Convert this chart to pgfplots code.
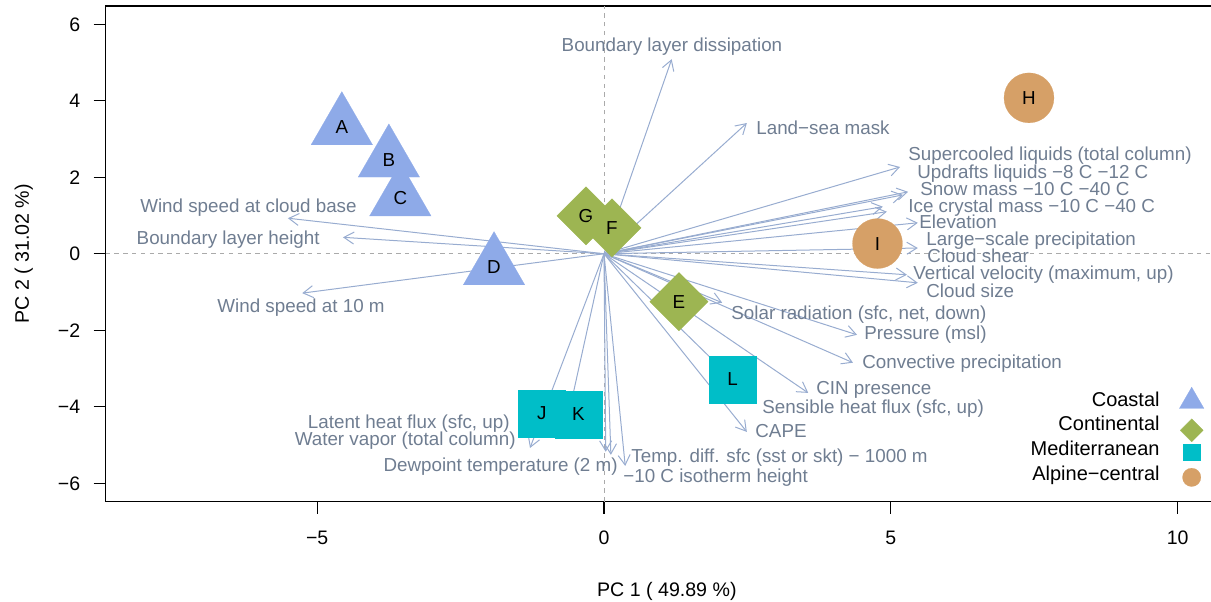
\documentclass[border=0pt]{standalone}
\usepackage{fontspec}
\setmainfont{Liberation Sans}
\usepackage{pgfplots}
\pgfplotsset{compat=1.18}
\usetikzlibrary{arrows.meta}
\definecolor{coastal}{HTML}{8EAAE8}
\definecolor{continental}{HTML}{9DB552}
\definecolor{mediterr}{HTML}{00BEC8}
\definecolor{alpine}{HTML}{D6A067}
\definecolor{arrowcol}{HTML}{98ACD0}
\definecolor{labcol}{HTML}{6F7D91}
\definecolor{dashcol}{HTML}{AAAAAA}
\tikzset{
  lab/.style={font=\fontsize{9.4}{11}\selectfont, text=labcol, inner sep=0pt, text height=6.73pt, text depth=0pt},
  letter/.style={font=\fontsize{9.4}{11}\selectfont, text=black, inner sep=0pt, text height=6.73pt, text depth=0pt},
  legtxt/.style={font=\fontsize{10}{12}\selectfont, text=black, inner sep=0pt, text height=7.16pt, text depth=0pt, anchor=east},
}

\pgfplotstableread{
x y u v
0 0 1.18 5.09
0 0 2.49 3.42
0 0 5.16 2.27
0 0 5.30 1.62
0 0 5.21 1.54
0 0 4.86 1.23
0 0 4.93 1.10
0 0 5.47 0.81
0 0 5.47 0.15
0 0 5.28 -0.55
0 0 5.47 -0.76
0 0 -5.51 0.93
0 0 -4.55 0.43
0 0 -5.26 -1.03
0 0 2.06 -1.28
0 0 4.41 -2.12
0 0 4.34 -2.85
0 0 3.56 -3.64
0 0 2.54 -3.72
0 0 2.49 -4.66
0 0 -0.63 -4.29
0 0 -1.29 -5.08
0 0 0.03 -5.18
0 0 0.12 -5.26
0 0 0.37 -5.55
}\loadings

\pgfplotstableread{
x y lab
-4.570 3.314 A
-3.550 1.454 C
-3.750 2.470 B
-1.917 -0.348 D
}\coastaltab

\pgfplotstableread{
x y lab
-0.314 0.991 G
0.139 0.676 F
1.307 -1.253 E
}\continentaltab

\pgfplotstableread{
x y lab
-1.086 -4.170 J
-0.447 -4.196 K
2.240 -3.280 L
}\medtab

\pgfplotstableread{
x y lab
7.408 4.078 H
4.767 0.267 I
}\alpinetab

\begin{document}
\begin{tikzpicture}
\useasboundingbox (-52.85pt,-49.75pt) rectangle (552.65pt,250.75pt);
\begin{axis}[
  at={(0pt,0pt)}, anchor=south west,
  scale only axis, width=561.15pt, height=247.75pt,
  xmin=-8.686, xmax=10.877, ymin=-6.481, ymax=6.481,
  clip=false,
  axis line style={line width=0.6pt, black},
  tick align=outside, tick style={line width=0.6pt, black},
  major tick length=6pt,
  xtick={-5,0,5,10}, xticklabels={−5,0,5,10},
  ytick={-6,-4,-2,0,2,4,6}, yticklabels={−6,−4,−2,0,2,4,6},
  xtick pos=lower, ytick pos=left,
  xticklabel style={font=\fontsize{9.75}{11}\selectfont, anchor=center, inner sep=0pt, text height=7pt, text depth=0pt, yshift=-11.9pt},
  yticklabel style={font=\fontsize{9.75}{11}\selectfont, anchor=east, inner sep=0pt, text height=7pt, text depth=0pt, xshift=-6.6pt},
  xlabel={PC 1 ( 49.89 \%)}, ylabel={PC 2 ( 31.02 \%)},
  xlabel style={font=\fontsize{9.8}{11}\selectfont, at={(axis description cs:0.5,-0.1766)}, anchor=center, inner sep=0pt, text height=7pt, text depth=0pt},
  ylabel style={font=\fontsize{9.8}{11}\selectfont, at={(axis description cs:-0.0746,0.5)}, anchor=center, inner sep=0pt, text height=7pt, text depth=0pt},
  nodes near coords align=center,
]
% reference lines
\addplot[dashcol, line width=0.5pt, dash pattern=on 2.2pt off 2.2pt, forget plot] coordinates {(0,-6.481) (0,6.481)};
\addplot[dashcol, line width=0.5pt, dash pattern=on 2.2pt off 2.2pt, forget plot] coordinates {(-8.686,0) (10.877,0)};

% loadings
\addplot[arrowcol, line width=0.5pt, -{Straight Barb[length=5pt,width=6pt]},
  quiver={u=\thisrow{u}, v=\thisrow{v}}] table[x=x,y=y] {\loadings};

% scores
\addplot[coastal, only marks, mark=triangle*, mark size=17.75pt, mark options={solid, fill=coastal, draw=coastal, line width=0.1pt},
  nodes near coords, point meta=explicit symbolic,
  nodes near coords style={letter, anchor=center}] table[x=x,y=y,meta=lab] {\coastaltab};
\addplot[continental, only marks, mark=square*, mark size=10.32pt, mark options={solid, fill=continental, draw=continental, line width=0.1pt, rotate=45},
  nodes near coords, point meta=explicit symbolic,
  nodes near coords style={letter, anchor=center}] table[x=x,y=y,meta=lab] {\continentaltab};
\addplot[mediterr, only marks, mark=square*, mark size=11.75pt, mark options={solid, fill=mediterr, draw=mediterr, line width=0.1pt},
  nodes near coords, point meta=explicit symbolic,
  nodes near coords style={letter, anchor=center}] table[x=x,y=y,meta=lab] {\medtab};
\addplot[alpine, only marks, mark=*, mark size=12.5pt, mark options={solid, fill=alpine, draw=alpine, line width=0.1pt},
  nodes near coords, point meta=explicit symbolic,
  nodes near coords style={letter, anchor=center}] table[x=x,y=y,meta=lab] {\alpinetab};

% loading labels
\node[lab, anchor=center] at (axis cs:1.185,5.465) {Boundary layer dissipation};
\node[lab, anchor=west] at (axis cs:2.649,3.293) {Land−sea mask};
\node[lab, anchor=west] at (axis cs:5.299,2.613) {Supercooled liquids (total column)};
\node[lab, anchor=west] at (axis cs:5.456,2.142) {Updrafts liquids −8 C −12 C};
\node[lab, anchor=west] at (axis cs:5.508,1.698) {Snow mass −10 C −40 C};
\node[lab, anchor=west] at (axis cs:5.299,1.253) {Ice crystal mass −10 C −40 C};
\node[lab, anchor=west] at (axis cs:5.491,0.835) {Elevation};
\node[lab, anchor=west] at (axis cs:5.613,0.390) {Large−scale precipitation};
\node[lab, anchor=west] at (axis cs:5.631,-0.055) {Cloud shear};
\node[lab, anchor=west] at (axis cs:5.387,-0.500) {Vertical velocity (maximum, up)};
\node[lab, anchor=west] at (axis cs:5.613,-0.970) {Cloud size};
\node[lab, anchor=east] at (axis cs:-4.305,1.253) {Wind speed at cloud base};
\node[lab, anchor=east] at (axis cs:-4.950,0.416) {Boundary layer height};
\node[lab, anchor=east] at (axis cs:-3.817,-1.363) {Wind speed at 10 m};
\node[lab, anchor=west] at (axis cs:2.214,-1.546) {Solar radiation (sfc, net, down)};
\node[lab, anchor=west] at (axis cs:4.532,-2.069) {Pressure (msl)};
\node[lab, anchor=west] at (axis cs:4.497,-2.828) {Convective precipitation};
\node[lab, anchor=west] at (axis cs:3.695,-3.508) {CIN presence};
\node[lab, anchor=west] at (axis cs:2.754,-4.005) {Sensible heat flux (sfc, up)};
\node[lab, anchor=west] at (axis cs:2.632,-4.633) {CAPE};
\node[lab, anchor=east] at (axis cs:-1.638,-4.394) {Latent heat flux (sfc, up)};
\node[lab, anchor=east] at (axis cs:-1.534,-4.839) {Water vapor (total column)};
\node[lab, anchor=east] at (axis cs:0.244,-5.520) {Dewpoint temperature (2 m)};
\node[lab, anchor=west] at (axis cs:0.471,-5.284) {Temp. diff. sfc (sst or skt) − 1000 m};
\node[lab, anchor=west] at (axis cs:0.331,-5.807) {−10 C isotherm height};

% legend
\addplot[coastal, only marks, mark=triangle*, mark size=7.1pt, mark options={solid, fill=coastal, draw=coastal, line width=0.1pt}] coordinates {(10.244,-3.861)};
\addplot[continental, only marks, mark=square*, mark size=4.07pt, mark options={solid, fill=continental, draw=continental, line width=0.1pt, rotate=45}] coordinates {(10.244,-4.619)};
\addplot[mediterr, only marks, mark=square*, mark size=4.17pt, mark options={solid, fill=mediterr, draw=mediterr, line width=0.1pt}] coordinates {(10.244,-5.190)};
\addplot[alpine, only marks, mark=*, mark size=4.6pt, mark options={solid, fill=alpine, draw=alpine, line width=0.1pt}] coordinates {(10.244,-5.849)};
\node[legtxt] at (axis cs:9.692,-3.819) {Coastal};
\node[legtxt] at (axis cs:9.692,-4.447) {Continental};
\node[legtxt] at (axis cs:9.692,-5.101) {Mediterranean};
\node[legtxt] at (axis cs:9.692,-5.755) {Alpine−central};
\end{axis}
\end{tikzpicture}
\end{document}
